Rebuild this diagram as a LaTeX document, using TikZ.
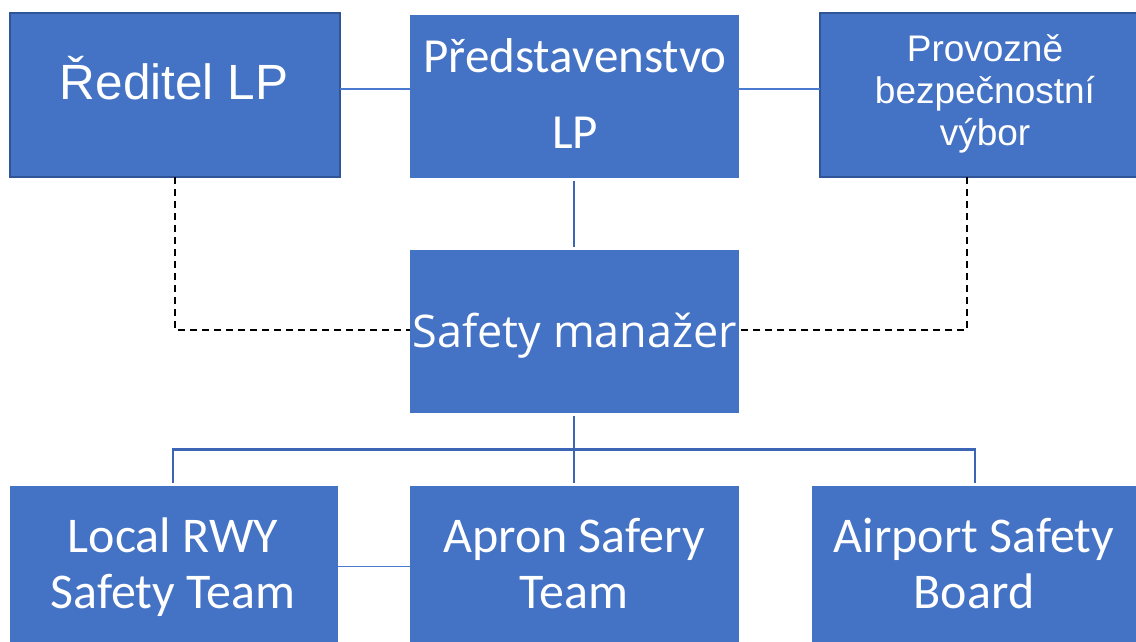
\documentclass[tikz,border=0pt]{standalone}
\usepackage{fontspec}
\newfontfamily\arialf{Liberation Sans}
\newfontfamily\calf{Carlito}
\newfontfamily\segf{Open Sans}
\definecolor{boxblue}{HTML}{4472C4}
\definecolor{boxedge}{HTML}{2F5597}
\definecolor{treeblue}{HTML}{3D65B5}
\definecolor{thinblue}{HTML}{4A7AD0}
\begin{document}
\begin{tikzpicture}[x=1pt,y=-1pt,
  box/.style={rectangle,fill=boxblue,inner sep=0pt,outer sep=0pt},
  edged/.style={draw=boxedge,line width=2pt},
  txt/.style={text=white,inner sep=0pt,anchor=base,align=center},
  thinlink/.style={draw=thinblue,line width=1.3pt},
  treelink/.style={draw=treeblue,line width=2.8pt},
  dashlink/.style={draw=black,line width=2.3pt,dash pattern=on 7pt off 5pt}]
\useasboundingbox (0,0) rectangle (1136,641);
% boxes
\node[box,edged,minimum width=330pt,minimum height=164pt] (red) at (175,95) {};
\node[box,minimum width=329pt,minimum height=163pt] (pred) at (574.5,96) {};
\node[box,edged,minimum width=330pt,minimum height=164pt] (prov) at (985,95) {};
\node[box,minimum width=329pt,minimum height=163pt] (saf) at (574.5,331.5) {};
\node[box,minimum width=328pt,minimum height=168pt] (loc) at (174,570) {};
\node[box,minimum width=329pt,minimum height=168pt] (apr) at (574.5,570) {};
\node[box,minimum width=324pt,minimum height=168pt] (air) at (974,570) {};
% texts (base anchor = baseline of last line)
\node[txt,font=\arialf\fontsize{49.5}{55}\selectfont] (redt) at (174,99) {Ředitel LP};
\node[txt,font=\calf\fontsize{49}{76}\selectfont] (predt) at (575,148) {Představenstvo\\LP};
\node[txt,font=\arialf\fontsize{37}{42}\selectfont] (provt) at (985,145) {Provozně\\bezpečnostní\\výbor};
\node[txt,font=\segf\fontsize{45}{55}\selectfont] (saft) at (575,347) {Safety manažer};
\node[txt,font=\calf\fontsize{50}{55.5}\selectfont] (loct) at (173,608) {Local RWY\\Safety Team};
\node[txt,font=\calf\fontsize{50}{56}\selectfont] (aprt) at (574,608) {Apron Safery\\Team};
\node[txt,font=\calf\fontsize{50}{56}\selectfont] (airt) at (974,608) {Airport Safety\\Board};
% coordinates
\coordinate (hl) at (173,449.5);
\coordinate (hr) at (975,449.5);
\coordinate (hm) at (574,449.5);
\coordinate (dl) at (175,330);
\coordinate (dr) at (967,330);
% thin links
\draw[thinlink] (red.east |- 0,89) -- (pred.west |- 0,89);
\draw[thinlink] (pred.east |- 0,89) -- (prov.west |- 0,89);
\draw[thinlink] (loc.east |- 0,566.5) -- (apr.west |- 0,566.5);
% tree links
\draw[treelink,shorten <=3pt,shorten >=3pt] (pred.south -| 574,0) -- (saf.north -| 574,0);
\draw[treelink,shorten <=3pt] (saf.south -| 574,0) -- (hm);
\draw[treelink,shorten >=3pt] (hm) -- (apr.north -| 574,0);
\draw[treelink,shorten <=3pt,shorten >=3pt] (loc.north -| hl) -- (hl) -- (hr) -- (air.north -| hr);
% dashed links
\draw[dashlink] (red.south -| dl) -- (dl) -- (saf.west |- dl);
\draw[dashlink] (prov.south -| dr) -- (dr) -- (saf.east |- dr);
\end{tikzpicture}
\end{document}
